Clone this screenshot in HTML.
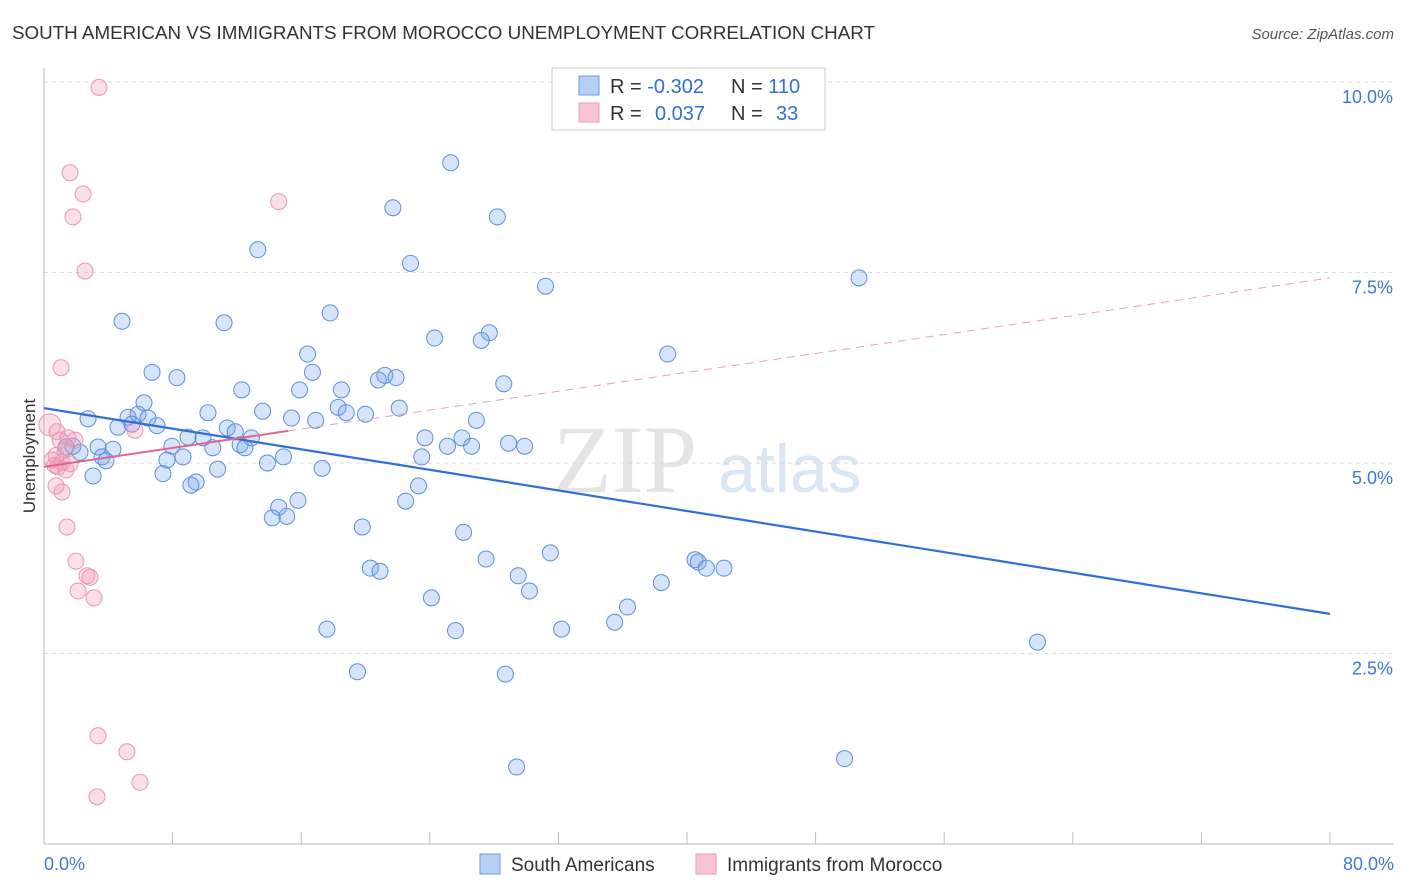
<!DOCTYPE html>
<html><head><meta charset="utf-8"><style>
body{margin:0;background:#fff;font-family:"Liberation Sans",sans-serif;}
svg{display:block}
</style></head><body>
<svg id="chart" width="1406" height="892" xmlns="http://www.w3.org/2000/svg">
<text x="12" y="39" font-size="18.8" fill="#333">SOUTH AMERICAN VS IMMIGRANTS FROM MOROCCO UNEMPLOYMENT CORRELATION CHART</text>
<text x="1394" y="39" font-size="15" fill="#555" font-style="italic" text-anchor="end">Source: ZipAtlas.com</text>
<g>
<text x="553" y="492" font-family="Liberation Serif,serif" font-size="96" fill="#e4e4e4">ZIP</text>
<text x="718" y="492" font-size="68" fill="#dbe6f5">atlas</text>
</g>
<g id="grid"></g>
<g id="axes"></g>
<g id="pts"></g>
<g id="lines"></g>
<text x="35" y="456" font-size="17" fill="#333" transform="rotate(-90 35 456)" text-anchor="middle">Unemployment</text>
<g>
<rect x="552" y="68" width="273" height="62" fill="#fff" stroke="#ccc"/>
<rect x="579" y="76" width="20" height="19" fill="#b6d0f5" stroke="#6d9ce0"/>
<rect x="579" y="103" width="20" height="19" fill="#f7c4d4" stroke="#eb9bb6"/>
<text x="610" y="93" font-size="20" fill="#333">R = <tspan fill="#2f6fd6">-0.302</tspan></text>
<text x="731" y="93" font-size="20" fill="#333">N = <tspan fill="#2f6fd6">110</tspan></text>
<text x="610" y="120" font-size="20" fill="#333">R = <tspan fill="#2f6fd6" x="655">0.037</tspan></text>
<text x="731" y="120" font-size="20" fill="#333">N = <tspan fill="#2f6fd6" x="776">33</tspan></text>
</g>
<g>
<rect x="480" y="854" width="20" height="20" fill="#b6d0f5" stroke="#6d9ce0"/>
<text x="511" y="871" font-size="19" fill="#333">South Americans</text>
<rect x="696" y="854" width="20" height="20" fill="#f7c4d4" stroke="#eb9bb6"/>
<text x="727" y="871" font-size="19" fill="#333">Immigrants from Morocco</text>
</g>
</svg>
<script>
const yTicks=[2.5,5.0,7.5,10.0];
const xTickLabels=["0.0%","80.0%"];
const blueX=[25.3,21.7,28.2,13.3,22.8,31.2,50.7,4.85,11.2,17.8,24.3,27.7,27.2,16.4,38.8,6.72,8.27,16.7,21.2,20.8,21.9,12.3,15.9,18.5,28.6,6.22,10.2,13.6,18.3,18.8,20.0,22.1,15.4,16.9,2.74,5.23,5.85,6.47,7.03,4.60,5.47,26.9,11.4,11.9,12.9,8.96,9.89,7.96,12.2,12.5,10.5,23.7,26.0,25.1,26.6,28.9,29.9,3.36,1.37,1.80,2.24,4.29,3.61,3.86,7.65,8.65,14.9,13.9,17.3,23.5,10.8,7.40,3.05,9.46,9.14,23.3,15.8,22.5,14.6,15.1,14.2,19.8,26.1,31.5,27.5,40.5,40.7,41.2,42.3,20.3,20.9,29.5,38.4,30.2,24.1,36.3,35.5,17.6,25.6,32.2,61.8,19.5,28.7,29.4,49.8];
const blueY=[8.94,8.35,8.23,7.80,7.62,7.32,7.43,6.86,6.84,6.97,6.64,6.71,6.61,6.43,6.43,6.19,6.12,6.19,6.15,6.09,6.12,5.96,5.96,5.96,6.04,5.79,5.66,5.68,5.73,5.66,5.64,5.72,5.59,5.56,5.58,5.60,5.64,5.59,5.49,5.47,5.51,5.56,5.46,5.41,5.33,5.34,5.33,5.22,5.24,5.20,5.20,5.33,5.33,5.22,5.22,5.26,5.22,5.21,5.21,5.22,5.14,5.18,5.08,5.03,5.04,5.08,5.08,5.00,4.93,5.08,4.92,4.86,4.83,4.75,4.71,4.70,4.51,4.50,4.42,4.30,4.28,4.16,4.09,3.82,3.74,3.73,3.70,3.62,3.62,3.62,3.58,3.52,3.43,3.32,3.23,3.11,2.91,2.82,2.80,2.82,2.65,2.26,2.23,1.01,1.12];
const pinkX=[3.42,1.62,2.43,1.80,14.6,2.55,1.06,0.81,1.0,1.49,1.93,1.31,0.75,0.50,1.12,1.62,0.87,1.37,5.66,0.75,1.12,1.43,1.99,2.67,2.86,2.12,3.11,3.36,5.16,5.97,3.30,0.37,0.68];
const pinkY=[9.93,8.81,8.53,8.23,8.43,7.52,6.25,5.41,5.30,5.33,5.30,5.17,5.10,5.04,5.01,4.99,4.95,4.91,5.43,4.70,4.62,4.16,3.71,3.52,3.50,3.32,3.23,1.42,1.21,0.81,0.62,5.50,4.97];
const blueTrend=[5.72,3.02];
const pinkTrend=[4.95,7.43];
const pinkSolidEnd=15.2;
const NS="http://www.w3.org/2000/svg";
const sx=v=>44+v/80*1286, sy=v=>844-v*76.2;
function mk(tag,attrs,parent){const e=document.createElementNS(NS,tag);for(const k in attrs)e.setAttribute(k,attrs[k]);parent.appendChild(e);return e;}
const grid=document.getElementById('grid'),axes=document.getElementById('axes');
yTicks.forEach(t=>{
 const l=mk('line',{x1:44,x2:1394,y1:sy(t),y2:sy(t),stroke:'#d8d8d8','stroke-dasharray':'4,4'},grid);
 
 
 const tx=mk('text',{x:1393,y:sy(t)+21,'font-size':18,fill:'#3b78d8','text-anchor':'end'},axes);
 tx.textContent=t.toFixed(1)+'%';
 
 
});
const ax=mk('path',{d:'M44 68V844H1394',stroke:'#bbb',fill:'none'},axes);


for(let i=0;i<=10;i++){const x=sx(i*8);const t=mk('line',{x1:x,x2:x,y1:832,y2:844,stroke:'#bbb'},axes);
 
 }
[[0,'start',44],[1,'end',1394]].forEach(([i,a,x])=>{const t=mk('text',{x:x,y:870,'font-size':18,fill:'#3b78d8','text-anchor':a},axes);t.textContent=xTickLabels[i];
 
 });
const pts=document.getElementById('pts');
blueX.forEach((x,i)=>{const c=mk('circle',{cx:sx(x),cy:sy(blueY[i]),r:8,fill:'rgba(120,165,235,0.3)',stroke:'#5b8fdb','stroke-width':1},pts);
 
 });
pinkX.forEach((x,i)=>{const c=mk('circle',{cx:sx(x),cy:sy(pinkY[i]),r:i==31?11:8,fill:'rgba(240,150,180,0.3)',stroke:'#e897b3','stroke-width':1},pts);
 
 });
const lines=document.getElementById('lines');
const bl=mk('line',{x1:sx(0),y1:sy(blueTrend[0]),x2:sx(80),y2:sy(blueTrend[1]),stroke:'#2f6fd6','stroke-width':2.2},lines);


const py=v=>pinkTrend[0]+(pinkTrend[1]-pinkTrend[0])*v/80;
const pd=mk('line',{x1:sx(pinkSolidEnd),y1:sy(py(pinkSolidEnd)),x2:sx(80),y2:sy(pinkTrend[1]),stroke:'#e6a0b8','stroke-width':1,'stroke-dasharray':'8,6'},lines);


const ps=mk('line',{x1:sx(0),y1:sy(pinkTrend[0]),x2:sx(pinkSolidEnd),y2:sy(py(pinkSolidEnd)),stroke:'#e0668f','stroke-width':2},lines);


</script>
</body></html>
